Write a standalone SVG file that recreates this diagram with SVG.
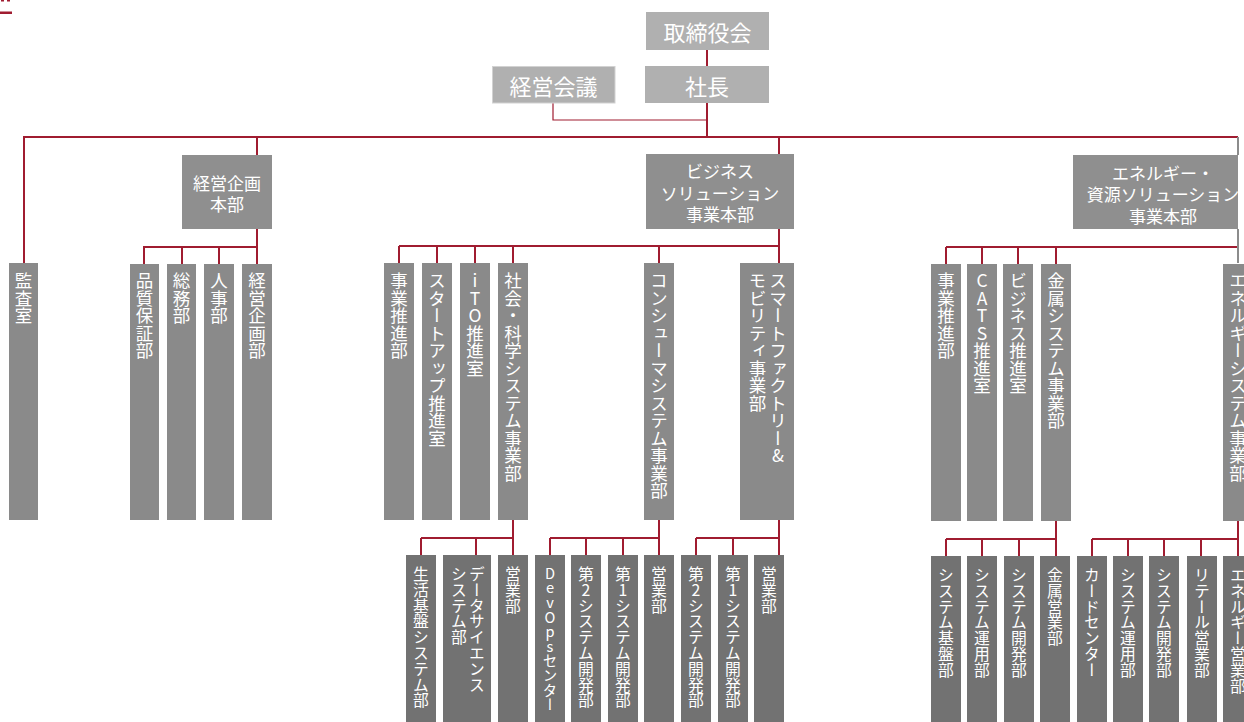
<svg xmlns="http://www.w3.org/2000/svg" width="1244" height="722" viewBox="0 0 1244 722">
<style>
text{font-family:"Noto Sans CJK JP","Noto Sans",sans-serif;fill:#fff}
.top{fill:#b0b0b0}
.l1{fill:#8f8f8f}
.l2{fill:#8a8a8a}
.l3{fill:#727272}
.t0{font-size:22px;text-anchor:middle;dominant-baseline:central}
.t1{font-size:17px;text-anchor:middle;dominant-baseline:central}
.v2{font-size:17.5px;writing-mode:vertical-rl;text-orientation:upright}
.v3{font-size:15.8px;writing-mode:vertical-rl;text-orientation:upright}
.ln{fill:none;stroke:#a01c30;stroke-width:2}
.thin{fill:none;stroke:#a01c30;stroke-width:1.2}
.gray{fill:none;stroke:#8c8c8c;stroke-width:2}
</style>
<rect x="0" y="11.5" width="12" height="2.5" fill="#a01c30"/>
<rect x="1" y="0" width="3" height="1.5" fill="#a01c30"/>
<rect x="7" y="0" width="3" height="1.5" fill="#a01c30"/>
<g id="connectors">
<path class="ln" d="M707 50V66M707 103V137M23 137H1238M24 137V263M257 137V155M779 137V154"/>
<path class="thin" d="M553 103V120H707"/>
<path class="ln" d="M144 247H258M144 246V264M182 246V264M219 246V264M257 229V264"/>
<path class="ln" d="M399 246H780M399 246V263M437 246V263M475 246V263M513 246V263M659 246V263M779 229V263"/>
<path class="ln" d="M946 247H1238M946 247V264M982 247V264M1018 247V264M1056 247V264"/>
<path class="gray" d="M1238 137V155M1238 229V263"/>
<path class="ln" d="M421 538H514M421 538V555M476 538V555M513 520V555"/>
<path class="ln" d="M550 538H660M550 538V555M586 538V555M623 538V555M659 520V555"/>
<path class="ln" d="M696 538H780M696 538V555M733 538V555M779 520V555"/>
<path class="ln" d="M946 539H1057M946 539V556M982 539V556M1019 539V556M1056 520V556"/>
<path class="ln" d="M1092 539H1239M1092 539V556M1128 539V556M1164 539V556M1201 539V556M1238 521V556"/>
</g>
<g id="board"><rect class="top" x="646" y="12" width="123" height="38"/><text class="t0" x="707.5" y="31">取締役会</text></g>
<g id="president"><rect class="top" x="645" y="66" width="124" height="37"/><text class="t0" x="707" y="84.5">社長</text></g>
<g id="mgmt-meeting"><rect class="top" x="492.5" y="66.5" width="122.5" height="36.5" stroke="#d2d2d2" stroke-width="1"/><text class="t0" x="553.5" y="84.5">経営会議</text></g>
<g id="corp-planning-hq"><rect class="l1" x="182" y="155" width="90" height="74"/><text class="t1" x="227" y="182">経営企画</text><text class="t1" x="227" y="203">本部</text></g>
<g id="bs-hq"><rect class="l1" x="646" y="154" width="148" height="75"/><text class="t1" x="720" y="170">ビジネス</text><text class="t1" x="720" y="192">ソリューション</text><text class="t1" x="720" y="213">事業本部</text></g>
<g id="energy-hq"><rect class="l1" x="1073" y="155" width="165" height="74"/><text class="t1" x="1163" y="172">エネルギー・</text><text class="t1" x="1163" y="193">資源ソリューション</text><text class="t1" x="1163" y="215">事業本部</text></g>
<g id="audit"><rect class="l2" x="9" y="263" width="29" height="257"/><text class="v2" x="23.5" y="272">監査室</text></g>
<g id="qa"><rect class="l2" x="130" y="264" width="29" height="256"/><text class="v2" x="144.5" y="272">品質保証部</text></g>
<g id="general"><rect class="l2" x="167" y="264" width="29" height="256"/><text class="v2" x="181.5" y="272">総務部</text></g>
<g id="hr"><rect class="l2" x="204" y="264" width="30" height="256"/><text class="v2" x="219" y="272">人事部</text></g>
<g id="corp-planning"><rect class="l2" x="242" y="264" width="30" height="256"/><text class="v2" x="257" y="272">経営企画部</text></g>
<g id="bs-promo"><rect class="l2" x="384" y="263" width="30" height="257"/><text class="v2" x="399" y="272">事業推進部</text></g>
<g id="startup"><rect class="l2" x="422" y="263" width="30" height="257"/><text class="v2" x="437" y="272">スタートアップ推進室</text></g>
<g id="ito"><rect class="l2" x="460" y="263" width="30" height="257"/><text class="v2" x="475" y="272">iTO推進室</text></g>
<g id="social"><rect class="l2" x="498" y="263" width="30" height="257"/><text class="v2" x="513" y="272">社会・科学システム事業部</text></g>
<g id="consumer"><rect class="l2" x="644" y="263" width="30" height="257"/><text class="v2" x="659" y="272">コンシューマシステム事業部</text></g>
<g id="smart"><rect class="l2" x="740" y="263" width="54" height="257"/><text class="v2" x="778" y="272">スマートファクトリー&amp;</text><text class="v2" x="757.5" y="272">モビリティ事業部</text></g>
<g id="en-promo"><rect class="l2" x="931" y="264" width="30" height="257"/><text class="v2" x="946" y="272">事業推進部</text></g>
<g id="cats"><rect class="l2" x="967" y="264" width="30" height="257"/><text class="v2" x="982" y="272">CATS推進室</text></g>
<g id="biz-promo"><rect class="l2" x="1003" y="264" width="30" height="257"/><text class="v2" x="1018" y="272">ビジネス推進室</text></g>
<g id="metal"><rect class="l2" x="1041" y="264" width="30" height="257"/><text class="v2" x="1056" y="272">金属システム事業部</text></g>
<g id="energy-sys"><rect class="l2" x="1223" y="264" width="30" height="257"/><text class="v2" x="1238" y="272">エネルギーシステム事業部</text></g>
<g id="life"><rect class="l3" x="406" y="555" width="30" height="170"/><text class="v3" x="421" y="566">生活基盤システム部</text></g>
<g id="datasci"><rect class="l3" x="443" y="555" width="48" height="170"/><text class="v3" x="477" y="566">データサイエンス</text><text class="v3" x="459" y="566">システム部</text></g>
<g id="social-sales"><rect class="l3" x="498" y="555" width="30" height="170"/><text class="v3" x="513" y="566">営業部</text></g>
<g id="devops"><rect class="l3" x="535" y="555" width="30" height="170"/><text class="v3" x="550" y="566" style="font-size:14.6px">DevOpsセンター</text></g>
<g id="c-dev2"><rect class="l3" x="571" y="555" width="30" height="170"/><text class="v3" x="586" y="566">第2システム開発部</text></g>
<g id="c-dev1"><rect class="l3" x="608" y="555" width="30" height="170"/><text class="v3" x="623" y="566">第1システム開発部</text></g>
<g id="c-sales"><rect class="l3" x="644" y="555" width="30" height="170"/><text class="v3" x="659" y="566">営業部</text></g>
<g id="s-dev2"><rect class="l3" x="681" y="555" width="30" height="170"/><text class="v3" x="696" y="566">第2システム開発部</text></g>
<g id="s-dev1"><rect class="l3" x="718" y="555" width="30" height="170"/><text class="v3" x="733" y="566">第1システム開発部</text></g>
<g id="s-sales"><rect class="l3" x="754" y="555" width="30" height="170"/><text class="v3" x="769" y="566">営業部</text></g>
<g id="m-infra"><rect class="l3" x="931" y="556" width="30" height="170"/><text class="v3" x="946" y="567">システム基盤部</text></g>
<g id="m-ops"><rect class="l3" x="967" y="556" width="30" height="170"/><text class="v3" x="982" y="567">システム運用部</text></g>
<g id="m-dev"><rect class="l3" x="1004" y="556" width="30" height="170"/><text class="v3" x="1019" y="567">システム開発部</text></g>
<g id="m-sales"><rect class="l3" x="1040" y="556" width="30" height="170"/><text class="v3" x="1055" y="567">金属営業部</text></g>
<g id="card"><rect class="l3" x="1077" y="556" width="30" height="170"/><text class="v3" x="1092" y="567">カードセンター</text></g>
<g id="e-ops"><rect class="l3" x="1113" y="556" width="30" height="170"/><text class="v3" x="1128" y="567">システム運用部</text></g>
<g id="e-dev"><rect class="l3" x="1149" y="556" width="30" height="170"/><text class="v3" x="1164" y="567">システム開発部</text></g>
<g id="retail"><rect class="l3" x="1187" y="556" width="30" height="170"/><text class="v3" x="1202" y="567">リテール営業部</text></g>
<g id="e-sales"><rect class="l3" x="1223" y="556" width="30" height="170"/><text class="v3" x="1238" y="567">エネルギー営業部</text></g>
</svg>
